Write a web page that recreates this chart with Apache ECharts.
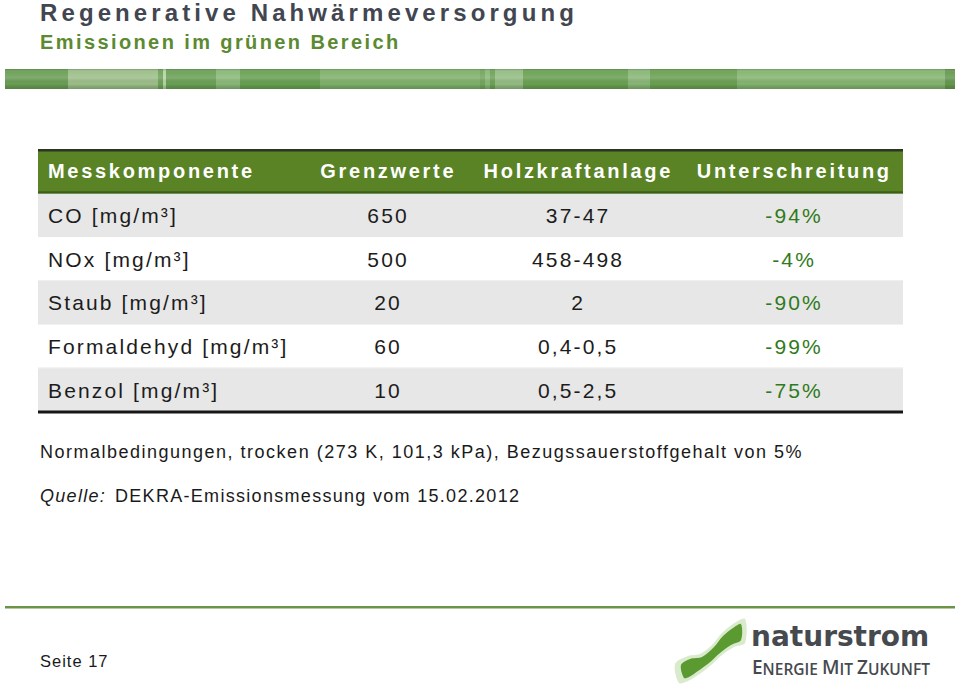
<!DOCTYPE html>
<html><head><meta charset="utf-8">
<script src="https://cdn.jsdelivr.net/npm/echarts@6/dist/echarts.min.js"></script>
<style>
html,body{margin:0;padding:0;background:#fff}
#c{width:960px;height:684px}
text[style*="zlsa"],text[font-family*="zlsa"]{letter-spacing:4.1px}
text[style*="zlsb"],text[font-family*="zlsb"]{letter-spacing:2.4px}
text[style*="zlsc"],text[font-family*="zlsc"]{letter-spacing:2.7px}
text[style*="zlsd"],text[font-family*="zlsd"]{letter-spacing:2.15px}
text[style*="zlse"],text[font-family*="zlse"]{letter-spacing:1.5px}
text[style*="zlsf"],text[font-family*="zlsf"]{letter-spacing:1.3px}
text[style*="zlsg"],text[font-family*="zlsg"]{letter-spacing:1px}
</style>
</head><body><div id="c"></div>
<script>
// ---- data ----
const titleText = 'Regenerative Nahwärmeversorgung';
const subtitleText = 'Emissionen im grünen Bereich';
const columns = ['Messkomponente', 'Grenzwerte', 'Holzkraftanlage', 'Unterschreitung'];
const components = ['CO [mg/m³]', 'NOx [mg/m³]', 'Staub [mg/m³]', 'Formaldehyd [mg/m³]', 'Benzol [mg/m³]'];
const limits = ['650', '500', '20', '60', '10'];
const plant = ['37-47', '458-498', '2', '0,4-0,5', '0,5-2,5'];
const reduction = ['-94%', '-4%', '-90%', '-99%', '-75%'];
const noteText = 'Normalbedingungen, trocken (273 K, 101,3 kPa), Bezugssauerstoffgehalt von 5%';
const sourceLabel = 'Quelle:';
const sourceText = 'DEKRA-Emissionsmessung vom 15.02.2012';
const pageText = 'Seite 17';

// ---- build ----
const rowLabels = [columns[0]].concat(components);
const tableRows = rowLabels.map(function (_, i) {
  return i === 0 ? columns : [components[i - 1], limits[i - 1], plant[i - 1], reduction[i - 1]];
});
const FAM = 'Liberation Sans, Arial, ';
const colOffsets = [10, 349, 539, 755];

function txt(text, x, y, size, weight, fill, tag, align, fstyle) {
  return {
    type: 'text',
    style: {
      text: text, x: x, y: y, fill: fill,
      fontSize: size, fontWeight: weight, fontStyle: fstyle || 'normal',
      fontFamily: FAM + tag,
      align: align || 'left', verticalAlign: 'middle'
    }
  };
}

const stripeSegs = [
  [5,68,'#6a9e55'],[68,158,'#9cbe89'],[158,163,'#6fa25a'],[163,166,'#b5d4a5'],
  [166,216,'#6aa055'],[216,240,'#89b878'],[240,320,'#68a052'],[320,480,'#7fb06a'],
  [480,485,'#72a55c'],[485,490,'#8ab878'],[490,495,'#6ea258'],[495,523,'#93bc83'],
  [523,628,'#69a052'],[628,650,'#88b676'],[650,737,'#6aa052'],[737,945,'#84b470'],[945,955,'#66984f']
];
const graphics = [];
stripeSegs.forEach(function (s) {
  graphics.push({ type: 'rect', shape: { x: s[0], y: 69, width: s[1] - s[0], height: 20 }, style: { fill: s[2] } });
});
graphics.push({ type: 'rect', shape: { x: 5, y: 69, width: 950, height: 20 },
  style: { fill: { type: 'linear', x: 0, y: 0, x2: 0, y2: 1, colorStops: [
    { offset: 0, color: 'rgba(50,80,40,0.30)' }, { offset: 0.15, color: 'rgba(255,255,255,0.05)' },
    { offset: 0.45, color: 'rgba(255,255,255,0.15)' }, { offset: 0.75, color: 'rgba(0,0,0,0)' },
    { offset: 1, color: 'rgba(40,70,30,0.30)' }] } } });

graphics.push(txt(titleText, 40, 12, 24, 'bold', '#414650', 'zlsa'));
graphics.push(txt(subtitleText, 40, 41.5, 20, 'bold', '#5b8a30', 'zlsb'));
graphics.push(txt(noteText, 40, 452, 18, 'normal', '#1a1a1a', 'zlse'));
graphics.push(txt(sourceLabel, 40, 496, 18, 'normal', '#1a1a1a', 'zlsf', 'left', 'italic'));
graphics.push(txt(sourceText, 115, 496, 18, 'normal', '#1a1a1a', 'zlsf'));
graphics.push({ type: 'rect', shape: { x: 5, y: 606, width: 950, height: 2.5 }, style: { fill: '#6c9448' } });
graphics.push(txt(pageText, 40, 661, 16.5, 'normal', '#1a1a1a', 'zlsg'));

// logo
graphics.push({ type: 'polygon', shape: { smooth: 0.3, points: [
  [675,664],[688,656],[700,654],[712,645],[722,633],[733,624],[745,619],
  [745,643],[734,647],[722,655],[710,666],[698,675],[688,681],[679,683]] },
  style: { fill: 'rgba(130,185,90,0.30)' } });
graphics.push({ type: 'polygon', shape: { smooth: 0.3, points: [
  [681,665],[690,659],[702,657],[714,647],[723,636],[733,628],[741,624],
  [741,640],[731,645],[720,653],[709,663],[698,671],[689,677],[684,678]] },
  style: { fill: '#5a9a30' } });
graphics.push({ type: 'text', style: { text: 'naturstrom', x: 751, y: 636, fill: '#464a4f',
  fontSize: 28, fontWeight: 'bold', fontFamily: 'DejaVu Sans', align: 'left', verticalAlign: 'middle' } });
graphics.push({ type: 'text', style: {
  text: '{b|E}{s|NERGIE }{b|M}{s|IT }{b|Z}{s|UKUNFT}', x: 752, y: 667, align: 'left', verticalAlign: 'middle',
  rich: {
    b: { fontSize: 19, fontWeight: 600, fontFamily: 'Open Sans', fill: '#464a4f', verticalAlign: 'bottom' },
    s: { fontSize: 15.5, fontWeight: 600, fontFamily: 'Open Sans', fill: '#464a4f', verticalAlign: 'bottom' }
  } } });

const option = {
  animation: false,
  backgroundColor: '#ffffff',
  grid: { left: 38, right: 57, top: 150, bottom: 272 },
  xAxis: { type: 'value', min: 0, max: 1, show: false },
  yAxis: { type: 'category', data: rowLabels, inverse: true, show: false },
  series: [{
    type: 'custom',
    coordinateSystem: 'cartesian2d',
    data: rowLabels.map(function (_, i) { return [0, i]; }),
    renderItem: function (params, api) {
      const i = api.value(1);
      const cs = params.coordSys;
      const yc = api.coord([0, i])[1];
      const h = api.size([0, 1])[1];
      const top = yc - h / 2;
      const cells = tableRows[i];
      const children = [];
      if (i === 0) {
        children.push({ type: 'rect', shape: { x: cs.x, y: top, width: cs.width, height: h }, style: { fill: '#5a8326' } });
        children.push({ type: 'rect', shape: { x: cs.x, y: top - 1, width: cs.width, height: 2.5 }, style: { fill: '#2c3524' } });
        children.push({ type: 'rect', shape: { x: cs.x, y: top + h - 2.5, width: cs.width, height: 2.5 }, style: { fill: '#3d6019' } });
      } else {
        children.push({ type: 'rect', shape: { x: cs.x, y: top, width: cs.width, height: h },
          style: { fill: i % 2 === 1 ? '#e7e7e7' : '#ffffff' } });
        if (i % 2 === 0) {
          children.push({ type: 'rect', shape: { x: cs.x, y: top + h - 1, width: cs.width, height: 1 }, style: { fill: '#efefef' } });
        }
        if (i === tableRows.length - 1) {
          children.push({ type: 'rect', shape: { x: cs.x, y: top + h - 1.5, width: cs.width, height: 3 }, style: { fill: '#161616' } });
        }
      }
      cells.forEach(function (t, j) {
        const head = i === 0;
        const color = head ? '#ffffff' : (j === 3 ? '#2f7a20' : '#1c1c1c');
        children.push(txt(t, cs.x + colOffsets[j] + (j === 0 ? 0 : (head ? 1.3 : 1.1)), yc + (head ? -1 : 0),
          head ? 20 : 21, head ? 'bold' : 'normal', color, head ? 'zlsc' : 'zlsd', j === 0 ? 'left' : 'center'));
      });
      return { type: 'group', children: children };
    }
  }],
  graphic: graphics
};

const chart = echarts.init(document.getElementById('c'), null, { renderer: 'svg' });
chart.setOption(option);
</script>
</body></html>
